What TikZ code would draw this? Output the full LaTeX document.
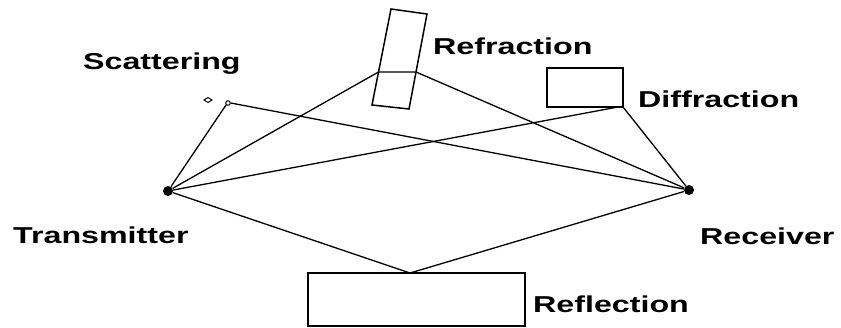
\documentclass[tikz,border=0pt]{standalone}
\usepackage{fontspec}
\setmainfont{Liberation Sans}
\begin{document}
\begin{tikzpicture}[x=1pt,y=-1pt,
  lbl/.style={anchor=base west,inner sep=0pt,font=\fontsize{23}{23}\selectfont\bfseries},
  wire/.style={line width=1.3pt},
  obj/.style={line width=1.5pt},
  dot/.style={circle,fill=black,inner sep=0pt,minimum size=10pt}]
\useasboundingbox (0,0) rectangle (841,327);
% endpoints
\node[dot] (T) at (168,191) {};
\node[dot] (R) at (689,190) {};
% scattering
\draw[line width=1pt] (204,100) -- (208,97.5) -- (212,100) -- (208,102.5) -- cycle;
\node[circle,draw,line width=1pt,inner sep=0pt,minimum size=4.5pt] (S) at (228,103) {};
% refraction
\draw[obj] (391,9) -- (427,14) -- (409,109) -- (372,105) -- cycle;
\coordinate (RfA) at (378.5,72);
\coordinate (RfB) at (416,72);
% diffraction
\draw[obj] (547,68) rectangle (623,107);
\coordinate (DfA) at (618,107);
\coordinate (DfB) at (623,107);
% reflection
\draw[obj] (308,273) rectangle (525,326);
\coordinate (RlA) at (410,273);
% rays
\draw[wire] (T) -- (S.south west) (S.east) -- (R);
\draw[wire] (T) -- (RfA) -- (RfB) -- (R);
\draw[wire] (T) -- (DfA) (DfB) -- (R);
\draw[wire] (T) -- (RlA) -- (R);
% labels
\node[lbl] (lS) at (83,69) {\scalebox{1.4}[1]{Scattering}};
\node[lbl] (lRf) at (433,54) {\scalebox{1.4}[1]{Refraction}};
\node[lbl] (lD) at (638,107) {\scalebox{1.4}[1]{Diffraction}};
\node[lbl] (lT) at (13,243) {\scalebox{1.4}[1]{Transmitter}};
\node[lbl] (lR) at (700,244) {\scalebox{1.4}[1]{Receiver}};
\node[lbl] (lRl) at (533,312) {\scalebox{1.4}[1]{Reflection}};
\end{tikzpicture}
\end{document}
